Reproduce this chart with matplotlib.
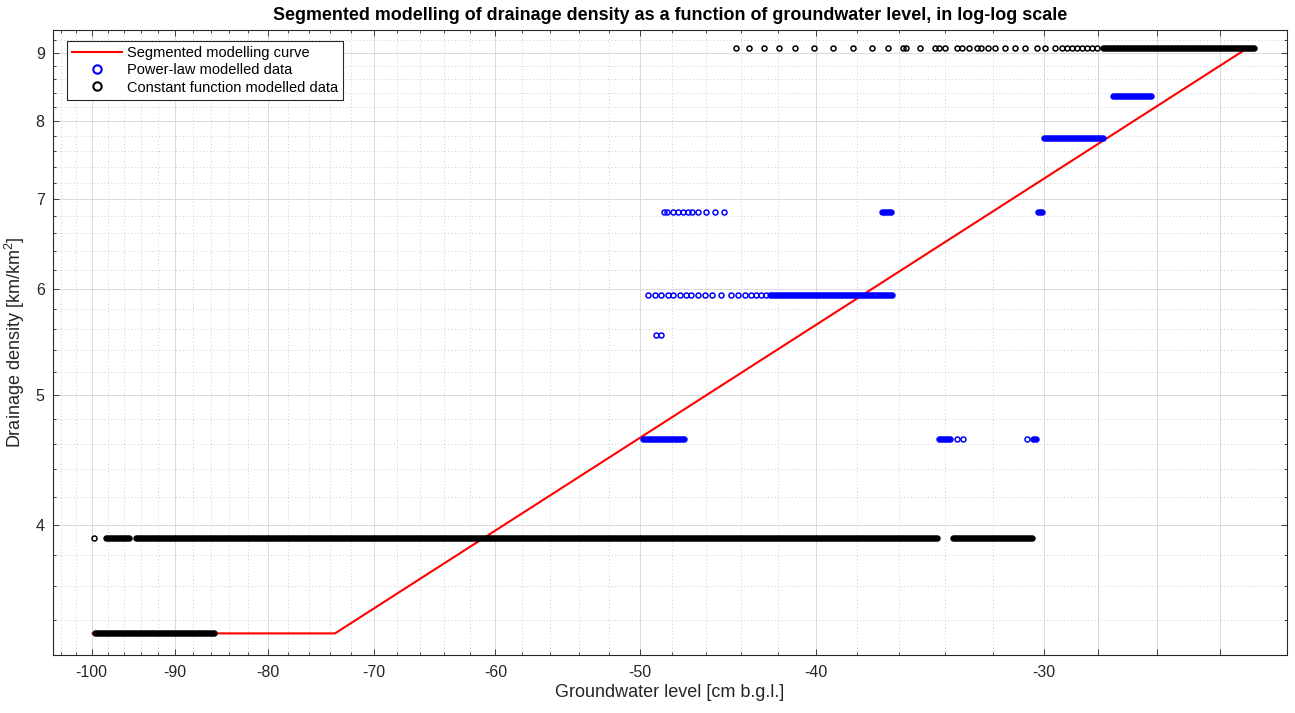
import numpy as np
import matplotlib
matplotlib.use("Agg")
import matplotlib.pyplot as plt
from matplotlib.ticker import FixedLocator, FuncFormatter, NullFormatter
from matplotlib.lines import Line2D

plt.rcParams['font.family'] = ['Liberation Sans', 'DejaVu Sans']
plt.rcParams['mathtext.fontset'] = 'custom'
plt.rcParams['mathtext.rm'] = 'Liberation Sans'
plt.rcParams['mathtext.it'] = 'Liberation Sans:italic'

# ---------------- data ----------------
# segmented modelling curve
curve_gwl = [-100.0, -73.5, -23.25]
curve_dd = [3.32, 3.32, 9.05]

# power-law modelled data: isolated points
pl_gwl = [-48.47, -48.29, -47.96, -47.66, -47.36, -47.06, -46.77, -46.44, -45.99, -45.47, -44.95,
          -49.47, -49.05, -48.64, -48.24, -47.93, -47.53, -47.13, -46.83, -46.44, -46.05, -45.60,
          -45.09, -44.52, -44.15, -43.78, -43.41, -43.14, -42.86, -42.59,
          -48.99, -48.68,
          -33.49, -33.21, -30.64]
pl_dd = [6.85] * 11 + [5.94] * 19 + [5.54] * 2 + [4.64] * 3

# power-law modelled data: densely packed runs (level, first and last groundwater level)
pl_run_dd = [5.94, 6.85, 6.85, 4.64, 4.64, 4.64, 8.35, 7.77]
pl_run_start = [-42.41, -36.79, -30.21, -49.80, -34.25, -30.40, -27.48, -29.99]
pl_run_end = [-36.35, -36.39, -30.06, -47.26, -33.78, -30.29, -26.19, -27.83]

# constant-function modelled data: isolated points
cf_gwl = [-99.70,
          -44.27, -43.53, -42.71, -41.91, -41.06, -40.10, -39.15, -38.17, -37.29, -36.52,
          -35.85, -35.72, -35.09, -34.40, -34.25, -33.99, -33.45, -33.25, -32.96, -32.65,
          -32.45, -32.18, -31.91, -31.50, -31.10, -30.71, -30.26, -29.95, -29.57, -29.32,
          -29.14, -28.95, -28.77, -28.59, -28.41, -28.23, -28.05]
cf_dd = [3.91] + [9.07] * 37

# constant-function modelled data: densely packed runs
cf_run_dd = [3.32, 3.91, 3.91, 3.91, 9.07]
cf_run_start = [-99.62, -98.17, -94.51, -33.64, -27.83]
cf_run_end = [-85.70, -95.43, -34.32, -30.44, -23.00]

# axis ticks
x_major = [-100, -90, -80, -70, -60, -50, -40, -30, -28, -26, -24]
x_labelled = [-100, -90, -80, -70, -60, -50, -40, -30]
x_minor = [-104, -102, -98, -96, -94, -92, -88, -86, -84, -82, -78, -76, -74, -72,
           -68, -66, -64, -62, -58, -56, -54, -52, -48, -46, -44, -42, -38, -36,
           -34, -32]
y_major = [4, 5, 6, 7, 8, 9]
y_minor = [3.2, 3.4, 3.6, 3.8, 4.2, 4.4, 4.6, 4.8, 5.2, 5.4, 5.6, 5.8, 6.2, 6.4, 6.6,
           6.8, 7.2, 7.4, 7.6, 7.8, 8.2, 8.4, 8.6, 8.8, 9.2]

# ---------------- figure ----------------
W, H = 1295, 713
fig = plt.figure(figsize=(W / 100, H / 100), dpi=100)
ax = fig.add_axes([53 / W, 58 / H, 1234 / W, 625 / H])


def fwd(x):
    x = np.asarray(x, dtype=float)
    with np.errstate(divide='ignore', invalid='ignore'):
        return -np.log(np.abs(x))


def inv(y):
    return -np.exp(-np.asarray(y, dtype=float))


ax.set_xscale('function', functions=(fwd, inv))
ax.set_yscale('log')

MS = 3.6
MEW = 1.1
RUN_LW = MS + MEW

# segmented curve drawn first (below the data markers)
ax.plot(curve_gwl, curve_dd, color='red', lw=1.5, zorder=2, solid_capstyle='butt')

for lvl, s, e in zip(cf_run_dd, cf_run_start, cf_run_end):
    ax.plot([s, e], [lvl, lvl], color='black', lw=RUN_LW, solid_capstyle='round', zorder=3)
for lvl, s, e in zip(pl_run_dd, pl_run_start, pl_run_end):
    ax.plot([s, e], [lvl, lvl], color='blue', lw=RUN_LW, solid_capstyle='round', zorder=3)

ax.plot(cf_gwl, cf_dd, ls='none', marker='o', mfc='none', mec='black', ms=MS, mew=MEW, zorder=3)
ax.plot(pl_gwl, pl_dd, ls='none', marker='o', mfc='none', mec='blue', ms=MS, mew=MEW, zorder=3)

ax.set_xlim(-105.0, -22.05)
ax.set_ylim(3.199, 9.36)

ax.xaxis.set_major_locator(FixedLocator(x_major))
ax.xaxis.set_minor_locator(FixedLocator(x_minor))
ax.xaxis.set_major_formatter(FuncFormatter(
    lambda v, p: f'{v:.0f}' if any(abs(v - t) < 1e-6 for t in x_labelled) else ''))
ax.xaxis.set_minor_formatter(NullFormatter())
ax.yaxis.set_major_locator(FixedLocator(y_major))
ax.yaxis.set_minor_locator(FixedLocator(y_minor))
ax.yaxis.set_major_formatter(FuncFormatter(lambda v, p: f'{v:.0f}'))
ax.yaxis.set_minor_formatter(NullFormatter())

ax.tick_params(which='both', direction='in', top=True, right=True, colors='#262626',
               labelsize=11.5, width=0.6)
ax.tick_params(which='major', length=4.5)
ax.tick_params(which='minor', length=2.2)
ax.tick_params(axis='x', which='major', pad=7)
ax.tick_params(axis='y', which='major', pad=6)

ax.grid(True, which='major', color='#dadada', lw=0.7, ls='-')
ax.grid(True, which='minor', color='#cdcdcd', lw=0.7, ls=(0, (1, 2.5)))
ax.set_axisbelow(True)
for sp in ax.spines.values():
    sp.set_color('#262626')
    sp.set_linewidth(0.8)

ax.set_xlabel('Groundwater level [cm b.g.l.]', fontsize=13, color='#262626', labelpad=3)
ax.set_ylabel('Drainage density [km/km$^2$]', fontsize=13, color='#262626', labelpad=6)
ax.set_title('Segmented modelling of drainage density as a function of groundwater level, '
             'in log-log scale', fontsize=12.9, fontweight='bold', pad=7)

handles = [Line2D([], [], color='red', lw=1.5),
           Line2D([], [], ls='none', marker='o', mfc='none', mec='blue', ms=6, mew=1.5),
           Line2D([], [], ls='none', marker='o', mfc='none', mec='black', ms=6, mew=1.5)]
labels = ['Segmented modelling curve', 'Power-law modelled data',
          'Constant function modelled data']
leg = ax.legend(handles, labels, loc='upper left', bbox_to_anchor=(14 / 1234, 1 - 11 / 625),
                borderaxespad=0, fontsize=10.5, handlelength=3.4, handletextpad=0.35,
                borderpad=0.35, labelspacing=0.22, fancybox=False, framealpha=1,
                edgecolor='#262626')
leg.get_frame().set_linewidth(0.8)
leg.set_zorder(5)

fig.savefig('out.png', dpi=100)
